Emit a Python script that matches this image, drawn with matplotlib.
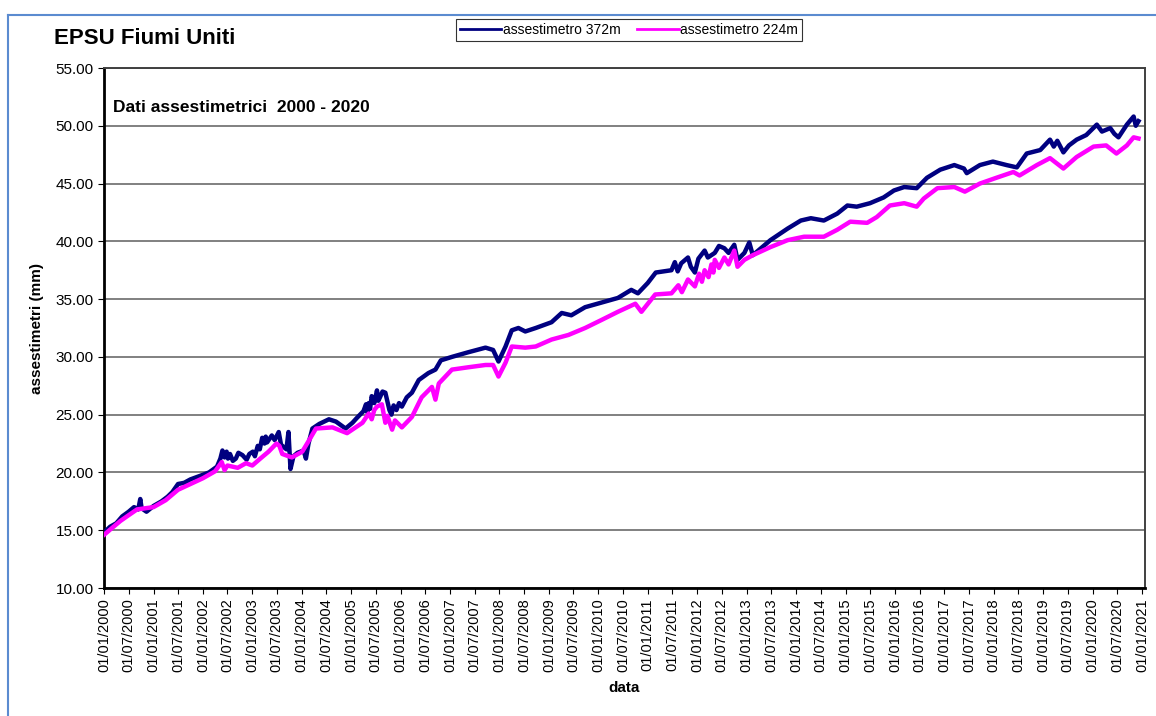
import numpy as np
import pandas as pd
import matplotlib
matplotlib.use("Agg")
import matplotlib.pyplot as plt
import matplotlib.dates as mdates
from matplotlib.lines import Line2D

plt.rcParams['font.family'] = ['Liberation Sans', 'DejaVu Sans']

# assestimetro 372m (mm)
dates_372 = [
    "2000-01-01", "2000-02-15", "2000-04-01", "2000-05-15", "2000-07-01", "2000-08-10",
    "2000-09-10", "2000-09-25", "2000-10-05", "2000-11-10", "2001-01-01", "2001-03-01",
    "2001-04-15", "2001-05-20", "2001-07-01", "2001-08-15", "2001-10-01", "2001-12-10",
    "2002-02-15", "2002-04-15", "2002-05-10", "2002-05-25", "2002-06-10", "2002-06-25",
    "2002-07-05", "2002-07-20", "2002-08-10", "2002-09-01", "2002-09-20", "2002-10-20",
    "2002-11-20", "2002-12-10", "2003-01-05", "2003-01-20", "2003-02-10", "2003-02-25",
    "2003-03-15", "2003-04-01", "2003-04-10", "2003-04-20", "2003-05-25", "2003-06-15",
    "2003-07-15", "2003-08-01", "2003-09-10", "2003-09-25", "2003-10-10", "2003-11-01",
    "2003-12-01", "2004-01-15", "2004-02-01", "2004-02-20", "2004-03-20", "2004-05-10",
    "2004-07-20", "2004-09-10", "2004-11-20", "2005-01-10", "2005-02-10", "2005-04-01",
    "2005-04-20", "2005-04-30", "2005-05-10", "2005-05-20", "2005-06-01", "2005-06-20",
    "2005-07-10", "2005-07-20", "2005-08-01", "2005-08-20", "2005-09-10", "2005-10-10",
    "2005-10-25", "2005-11-10", "2005-12-01", "2005-12-20", "2006-01-10", "2006-02-15",
    "2006-03-25", "2006-05-15", "2006-07-25", "2006-09-15", "2006-10-25", "2007-01-15",
    "2007-05-15", "2007-09-20", "2007-11-15", "2007-12-25", "2008-02-15", "2008-04-01",
    "2008-05-20", "2008-07-10", "2008-09-25", "2009-01-20", "2009-04-05", "2009-06-15",
    "2009-09-25", "2010-01-25", "2010-05-25", "2010-09-01", "2010-10-20", "2011-01-01",
    "2011-03-01", "2011-06-25", "2011-07-20", "2011-08-10", "2011-09-05", "2011-10-25",
    "2011-11-15", "2011-12-15", "2012-01-10", "2012-02-25", "2012-03-20", "2012-05-10",
    "2012-06-10", "2012-07-20", "2012-08-20", "2012-10-01", "2012-10-25", "2012-12-15",
    "2013-01-20", "2013-02-15", "2013-06-25", "2013-10-30", "2014-02-05", "2014-04-20",
    "2014-07-25", "2014-11-01", "2015-01-15", "2015-03-25", "2015-07-01", "2015-10-10",
    "2015-12-25", "2016-03-10", "2016-06-10", "2016-08-25", "2016-12-01", "2017-03-15",
    "2017-05-25", "2017-06-15", "2017-09-20", "2017-12-25", "2018-04-05", "2018-06-20",
    "2018-09-01", "2018-12-10", "2019-02-20", "2019-03-20", "2019-04-15", "2019-05-30",
    "2019-07-10", "2019-09-05", "2019-11-15", "2020-02-01", "2020-03-10", "2020-05-10",
    "2020-06-10", "2020-07-10", "2020-09-10", "2020-10-30", "2020-11-15", "2020-12-05",
]
values_372 = [
    14.8, 15.3, 15.6, 16.2, 16.6, 17.0,
    16.8, 17.7, 16.9, 16.6, 17.1, 17.5,
    17.9, 18.3, 19.0, 19.1, 19.4, 19.7,
    20.0, 20.5, 21.2, 21.9, 21.3, 21.8,
    21.2, 21.6, 21.0, 21.2, 21.7, 21.5,
    21.1, 21.6, 21.8, 21.4, 22.3, 22.0,
    23.0, 22.5, 23.1, 22.6, 23.2, 22.8,
    23.5, 22.4, 22.0, 23.5, 20.3, 21.4,
    21.7, 21.9, 21.2, 22.5, 23.8, 24.2,
    24.6, 24.4, 23.8, 24.3, 24.7, 25.3,
    25.9, 25.2, 26.0, 25.5, 26.6, 26.0,
    27.1, 26.2, 26.5, 27.0, 26.9, 25.4,
    25.0, 25.8, 25.4, 26.0, 25.7, 26.5,
    26.9, 28.0, 28.6, 28.9, 29.7, 30.0,
    30.4, 30.8, 30.6, 29.6, 30.9, 32.3,
    32.5, 32.2, 32.5, 33.0, 33.8, 33.6,
    34.3, 34.7, 35.1, 35.8, 35.5, 36.4,
    37.3, 37.5, 38.2, 37.4, 38.1, 38.6,
    37.8, 37.3, 38.5, 39.2, 38.6, 39.0,
    39.6, 39.4, 39.0, 39.7, 38.4, 39.0,
    39.9, 38.8, 40.1, 41.1, 41.8, 42.0,
    41.8, 42.4, 43.1, 43.0, 43.3, 43.8,
    44.4, 44.7, 44.6, 45.5, 46.2, 46.6,
    46.3, 45.9, 46.6, 46.9, 46.6, 46.4,
    47.6, 47.9, 48.8, 48.2, 48.7, 47.7,
    48.3, 48.8, 49.2, 50.1, 49.5, 49.8,
    49.3, 49.0, 50.1, 50.8, 50.0, 50.4,
]

# assestimetro 224m (mm)
dates_224 = [
    "2000-01-01", "2000-03-01", "2000-05-01", "2000-07-01", "2000-09-01", "2000-11-01",
    "2001-01-01", "2001-04-01", "2001-07-01", "2001-10-01", "2002-01-01", "2002-04-01",
    "2002-05-20", "2002-06-10", "2002-07-01", "2002-09-15", "2002-11-15", "2003-01-01",
    "2003-03-01", "2003-05-01", "2003-06-28", "2003-07-20", "2003-08-10", "2003-10-20",
    "2004-01-05", "2004-02-25", "2004-04-15", "2004-08-15", "2004-12-01", "2005-03-25",
    "2005-05-10", "2005-06-01", "2005-06-20", "2005-07-10", "2005-08-15", "2005-09-10",
    "2005-09-25", "2005-10-30", "2005-11-20", "2006-01-10", "2006-03-25", "2006-06-05",
    "2006-08-20", "2006-09-15", "2006-10-10", "2007-01-15", "2007-05-15", "2007-09-20",
    "2007-11-15", "2007-12-25", "2008-02-15", "2008-04-01", "2008-07-10", "2008-09-25",
    "2009-01-20", "2009-05-25", "2009-09-25", "2010-01-25", "2010-05-25", "2010-10-01",
    "2010-11-15", "2011-02-25", "2011-06-25", "2011-08-15", "2011-09-10", "2011-10-25",
    "2011-12-15", "2012-01-15", "2012-02-05", "2012-02-25", "2012-03-25", "2012-04-15",
    "2012-04-30", "2012-05-10", "2012-06-10", "2012-07-20", "2012-08-20", "2012-10-01",
    "2012-10-25", "2012-12-15", "2013-02-15", "2013-06-25", "2013-10-30", "2014-03-01",
    "2014-07-25", "2014-11-01", "2015-02-05", "2015-06-10", "2015-08-20", "2015-11-25",
    "2016-03-10", "2016-06-10", "2016-08-01", "2016-11-10", "2017-03-15", "2017-06-01",
    "2017-09-20", "2018-01-20", "2018-05-25", "2018-07-10", "2018-11-15", "2019-02-20",
    "2019-05-30", "2019-09-05", "2020-01-08", "2020-04-10", "2020-06-25", "2020-09-10",
    "2020-10-30", "2020-12-05",
]
values_224 = [
    14.6, 15.2, 15.8, 16.3, 16.8, 16.9,
    17.0, 17.6, 18.5, 19.0, 19.5, 20.1,
    20.9, 20.2, 20.6, 20.4, 20.8, 20.6,
    21.2, 21.8, 22.5, 22.3, 21.6, 21.3,
    21.8, 22.8, 23.8, 23.9, 23.4, 24.3,
    25.1, 24.6, 25.4, 25.7, 25.9, 24.3,
    24.9, 23.7, 24.5, 23.9, 24.8, 26.5,
    27.4, 26.3, 27.7, 28.9, 29.1, 29.3,
    29.3, 28.3, 29.5, 30.9, 30.8, 30.9,
    31.5, 31.9, 32.5, 33.2, 33.9, 34.6,
    33.9, 35.4, 35.5, 36.2, 35.6, 36.7,
    36.1, 37.2, 36.5, 37.5, 36.9, 38.0,
    37.3, 38.4, 37.7, 38.6, 38.0, 39.2,
    37.8, 38.4, 38.8, 39.5, 40.1, 40.4,
    40.4, 41.0, 41.7, 41.6, 42.1, 43.1,
    43.3, 43.0, 43.7, 44.6, 44.7, 44.3,
    45.0, 45.5, 46.0, 45.7, 46.6, 47.2,
    46.3, 47.3, 48.2, 48.3, 47.6, 48.3,
    49.0, 48.9,
]

tick_dates = pd.date_range("2000-01-01", "2021-01-01", freq="6MS")

fig = plt.figure(figsize=(11.56, 7.16), dpi=100)
ax = fig.add_axes([104 / 1156, 1 - 588 / 716, (1145 - 104) / 1156, (588 - 68) / 716])

ax.plot(pd.to_datetime(dates_372), values_372, color="#000080", lw=3.2,
        label="assestimetro 372m", zorder=3)
ax.plot(pd.to_datetime(dates_224), values_224, color="#FF00FF", lw=3.2,
        label="assestimetro 224m", zorder=3)

ax.set_ylim(10, 55)
ax.set_yticks(np.arange(10, 56, 5))
ax.yaxis.set_major_formatter(matplotlib.ticker.FormatStrFormatter("%.2f"))
ax.set_xlim(pd.Timestamp("2000-01-01"), pd.Timestamp("2021-01-22"))
ax.set_xticks(tick_dates)
ax.xaxis.set_major_formatter(mdates.DateFormatter("%d/%m/%Y"))
ax.tick_params(axis="x", rotation=90, labelsize=10.5, length=4, direction="out")
ax.tick_params(axis="y", labelsize=11, length=4, direction="out")

ax.grid(axis="y", color="#808080", lw=1.4)
ax.set_axisbelow(True)
for side in ["left", "bottom"]:
    ax.spines[side].set_color("black")
    ax.spines[side].set_linewidth(2)
for side in ["top", "right"]:
    ax.spines[side].set_color("#404040")
    ax.spines[side].set_linewidth(1.4)

ax.set_ylabel("assestimetri (mm)", fontsize=11, fontweight="bold", labelpad=8)
ax.set_xlabel("data", fontsize=11, fontweight="bold", labelpad=6)

ax.text(0.009, 0.925, "Dati assestimetrici  2000 - 2020", transform=ax.transAxes,
        fontsize=12.5, fontweight="bold", va="center", ha="left")
fig.text(54 / 1156, 1 - 38 / 716, "EPSU Fiumi Uniti", fontsize=16,
         fontweight="bold", va="center", ha="left")

leg = fig.legend(loc="center", bbox_to_anchor=(629 / 1156, 1 - 30 / 716), ncol=2,
                 fontsize=10, frameon=True, fancybox=False, handlelength=3.0,
                 handletextpad=0.1, columnspacing=1.2, borderpad=0.3)
leg.get_frame().set_edgecolor("black")
leg.get_frame().set_linewidth(0.8)
for line in leg.get_lines():
    line.set_linewidth(2)

# outer chart border (top and left edges)
fig.add_artist(Line2D([8 / 1156, 1.0], [1 - 15 / 716, 1 - 15 / 716],
                      transform=fig.transFigure, color="#5B8BD0", lw=1.5))
fig.add_artist(Line2D([8 / 1156, 8 / 1156], [0.0, 1 - 15 / 716],
                      transform=fig.transFigure, color="#5B8BD0", lw=1.5))

fig.savefig("out.png", dpi=100)
